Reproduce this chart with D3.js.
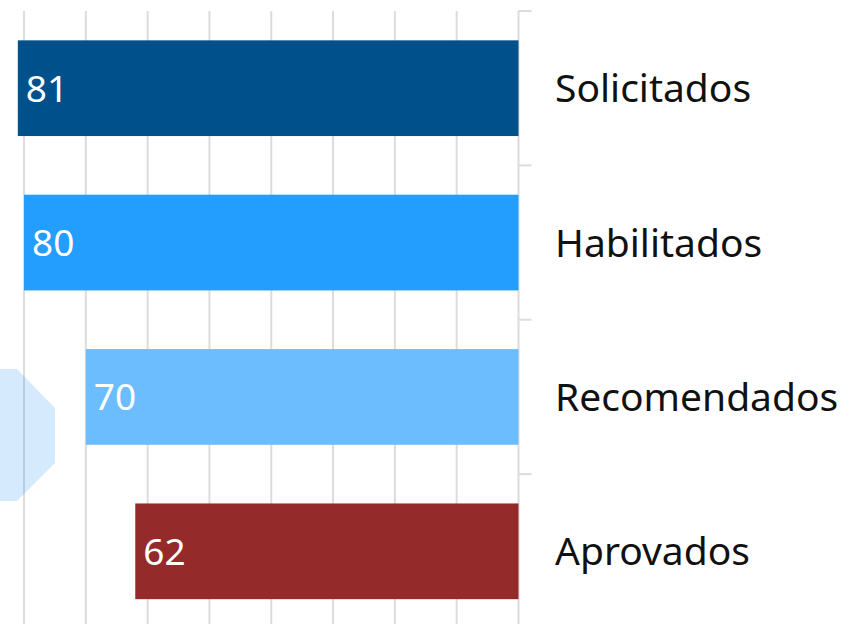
<!DOCTYPE html>
<html>
<head>
<meta charset="utf-8">
<script src="https://cdn.jsdelivr.net/npm/d3@7"></script>
<style>
  body { margin: 0; background: #fff; }
  svg { display: block; }
</style>
</head>
<body>
<div id="chart"></div>
<script>
// dados do gráfico
const categorias = ["Solicitados", "Habilitados", "Recomendados", "Aprovados"];
const valores = [81, 80, 70, 62];
const cores = ["#00508c", "#239dfe", "#6cbdfe", "#952a2a"];
const ticksGrade = [0, 10, 20, 30, 40, 50, 60, 70, 80];

const width = 856, height = 624;
const svg = d3.select("#chart").append("svg")
    .attr("width", width)
    .attr("height", height);

// barras crescem da direita para a esquerda
const x = d3.scaleLinear().domain([0, 80]).range([518.5, 24]);
const y = d3.scaleBand().domain(categorias).range([11, 628.5])
    .paddingInner(0.38).paddingOuter(0.19);

// limite superior de cada faixa (onde ficam as marcas do eixo)
const inicioFaixa = d => y.range()[0] + categorias.indexOf(d) * y.step();

// grade vertical
svg.append("g")
    .selectAll("line")
    .data(ticksGrade)
    .enter().append("line")
    .attr("x1", d => x(d)).attr("x2", d => x(d))
    .attr("y1", 11).attr("y2", height)
    .attr("stroke", "#dcdcdc")
    .attr("stroke-width", 2);

// marcas do eixo nas divisões das categorias
svg.append("g")
    .selectAll("line")
    .data(categorias)
    .enter().append("line")
    .attr("x1", x(0)).attr("x2", x(0) + 13)
    .attr("y1", inicioFaixa)
    .attr("y2", inicioFaixa)
    .attr("stroke", "#dcdcdc")
    .attr("stroke-width", 2);

// hexágono decorativo
svg.append("path")
    .attr("d", "M-20,369 L17,369 L55,408 L55,463 L17,501 L-20,501 Z")
    .attr("fill", "#2196f3")
    .attr("fill-opacity", 0.19);

// barras
svg.append("g")
    .selectAll("rect")
    .data(valores)
    .enter().append("rect")
    .attr("x", d => x(d))
    .attr("y", (d, i) => y(categorias[i]))
    .attr("width", d => x(0) - x(d))
    .attr("height", y.bandwidth())
    .attr("fill", (d, i) => cores[i]);

// valores dentro das barras
svg.append("g")
    .selectAll("text")
    .data(valores)
    .enter().append("text")
    .attr("x", d => x(d) + 8)
    .attr("y", (d, i) => y(categorias[i]) + y.bandwidth() / 2)
    .attr("dy", "0.36em")
    .attr("fill", "#fff")
    .style("font-family", "'Noto Sans', sans-serif")
    .style("font-size", "37px")
    .text(d => d);

// rótulos das categorias
svg.append("g")
    .selectAll("text")
    .data(categorias)
    .enter().append("text")
    .attr("x", 555)
    .attr("y", d => y(d) + y.bandwidth() / 2)
    .attr("dy", "0.36em")
    .attr("fill", "#111")
    .style("font-family", "'Noto Sans', sans-serif")
    .style("font-size", "39px")
    .text(d => d);
</script>
</body>
</html>
